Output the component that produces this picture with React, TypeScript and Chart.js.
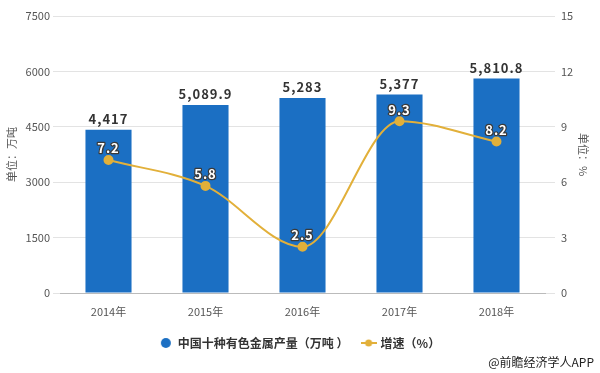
import React, { useEffect, useRef } from "react";
import { Chart, registerables } from "chart.js";

Chart.register(...registerables);

const categories = ["2014年", "2015年", "2016年", "2017年", "2018年"];
const outputValues = [4417, 5089.9, 5283, 5377, 5810.8];
const growthValues = [7.2, 5.8, 2.5, 9.3, 8.2];
const leftTicks = [0, 1500, 3000, 4500, 6000, 7500];
const rightTicks = [0, 3, 6, 9, 12, 15];

const BAR_COLOR = "#1b6fc3";
const LINE_COLOR = "#e2b03a";
const FONT = "'Noto Sans CJK SC', 'Noto Sans', sans-serif";

function makeIcon(kind: "circle" | "line"): HTMLCanvasElement {
  const c = document.createElement("canvas");
  c.width = kind === "circle" ? 12 : 16;
  c.height = 12;
  const ctx = c.getContext("2d")!;
  if (kind === "circle") {
    ctx.fillStyle = BAR_COLOR;
    ctx.beginPath();
    ctx.arc(6, 6, 5, 0, Math.PI * 2);
    ctx.fill();
  } else {
    ctx.strokeStyle = LINE_COLOR;
    ctx.lineWidth = 2;
    ctx.beginPath();
    ctx.moveTo(0, 6);
    ctx.lineTo(16, 6);
    ctx.stroke();
    ctx.fillStyle = LINE_COLOR;
    ctx.beginPath();
    ctx.arc(8, 6, 3.5, 0, Math.PI * 2);
    ctx.fill();
  }
  return c;
}

const fmt = new Intl.NumberFormat("en-US", { maximumFractionDigits: 1 });

const labelPlugin = {
  id: "valueLabels",
  afterDatasetsDraw(chart: any) {
    const ctx = chart.ctx as CanvasRenderingContext2D;
    ctx.save();
    const barMeta = chart.getDatasetMeta(0);
    ctx.font = `bold 13px ${FONT}`;
    (ctx as any).letterSpacing = "1px";
    ctx.fillStyle = "#333";
    ctx.textAlign = "center";
    ctx.textBaseline = "bottom";
    barMeta.data.forEach((el: any, i: number) => {
      ctx.fillText(fmt.format(outputValues[i]), el.x, el.y - 4);
    });
    const lineMeta = chart.getDatasetMeta(1);
    ctx.font = `bold 13px ${FONT}`;
    ctx.lineWidth = 2.5;
    ctx.lineJoin = "round";
    ctx.strokeStyle = "#3a3a3a";
    ctx.fillStyle = "#ffffff";
    lineMeta.data.forEach((el: any, i: number) => {
      const t = String(growthValues[i]);
      ctx.strokeText(t, el.x, el.y - 5);
      ctx.fillText(t, el.x, el.y - 5);
    });
    ctx.restore();
  },
};

export default function App() {
  const ref = useRef<HTMLCanvasElement>(null);
  useEffect(() => {
    document.body.style.margin = "0";
    const circleIcon = makeIcon("circle");
    const lineIcon = makeIcon("line");
    const chart = new Chart(ref.current!, {
      type: "bar",
      data: {
        labels: categories,
        datasets: [
          {
            type: "bar",
            label: "中国十种有色金属产量（万吨 ）",
            data: outputValues,
            backgroundColor: BAR_COLOR,
            yAxisID: "y",
            barPercentage: 0.475,
            categoryPercentage: 1,
            order: 2,
          },
          {
            type: "line",
            label: "增速（%）",
            data: growthValues,
            borderColor: LINE_COLOR,
            backgroundColor: LINE_COLOR,
            borderWidth: 2,
            pointRadius: 4,
            pointBackgroundColor: LINE_COLOR,
            pointBorderColor: LINE_COLOR,
            cubicInterpolationMode: "monotone",
            yAxisID: "y1",
            order: 1,
          } as any,
        ],
      },
      options: {
        responsive: false,
        animation: false,
        layout: { padding: { top: 16, bottom: 14 } },
        plugins: {
          tooltip: { enabled: false },
          legend: {
            position: "bottom",
            labels: {
              font: { family: FONT, size: 12, weight: "bold" },
              color: "#333",
              padding: 14,
              boxWidth: 14,
              usePointStyle: true,
              generateLabels: () => [
                { text: "中国十种有色金属产量（万吨 ）", pointStyle: circleIcon, datasetIndex: 0, fillStyle: BAR_COLOR, strokeStyle: BAR_COLOR, lineWidth: 0, hidden: false, fontColor: "#333" } as any,
                { text: "增速（%）", pointStyle: lineIcon, datasetIndex: 1, fillStyle: LINE_COLOR, strokeStyle: LINE_COLOR, lineWidth: 0, hidden: false, fontColor: "#333" } as any,
              ],
            },
          },
        },
        scales: {
          x: {
            grid: { display: false },
            border: { color: "#bbb" },
            ticks: { color: "#555", font: { family: FONT, size: 11 }, padding: 4 },
            afterFit: (s: any) => { s.height = 30; },
          },
          y: {
            position: "left",
            min: 0,
            max: 7500,
            afterBuildTicks: (s: any) => { s.ticks = leftTicks.map((v) => ({ value: v })); },
            grid: { color: "#e3e3e3", tickLength: 7 },
            border: { display: false },
            ticks: { color: "#555", font: { family: FONT, size: 11 }, padding: 3, callback: (v: any) => String(v) },
            title: { display: true, text: "单位：万吨", color: "#555", font: { family: FONT, size: 11 }, padding: { top: 5, bottom: 0 } },
            afterFit: (s: any) => { s.width = 60; },
          },
          y1: {
            position: "right",
            min: 0,
            max: 15,
            afterBuildTicks: (s: any) => { s.ticks = rightTicks.map((v) => ({ value: v })); },
            grid: { drawOnChartArea: false, color: "#e3e3e3", tickLength: 10 },
            border: { display: false },
            ticks: { color: "#555", font: { family: FONT, size: 11 }, padding: 6, callback: (v: any) => String(v) },
            title: { display: true, text: "单位：%", color: "#555", font: { family: FONT, size: 11 }, padding: { top: 10, bottom: 0 } },
            afterFit: (s: any) => { s.width = 55; },
          },
        },
      },
      plugins: [labelPlugin],
    } as any);
    return () => chart.destroy();
  }, []);
  return (
    <div style={{ position: "relative", width: 600, height: 373, background: "#fff" }}>
      <canvas ref={ref} width={600} height={373} />
      <div
        style={{
          position: "absolute",
          right: 6,
          top: 354,
          fontFamily: FONT,
          fontSize: 12,
          color: "#222",
          lineHeight: "16px",
        }}
      >
        @前瞻经济学人APP
      </div>
    </div>
  );
}
